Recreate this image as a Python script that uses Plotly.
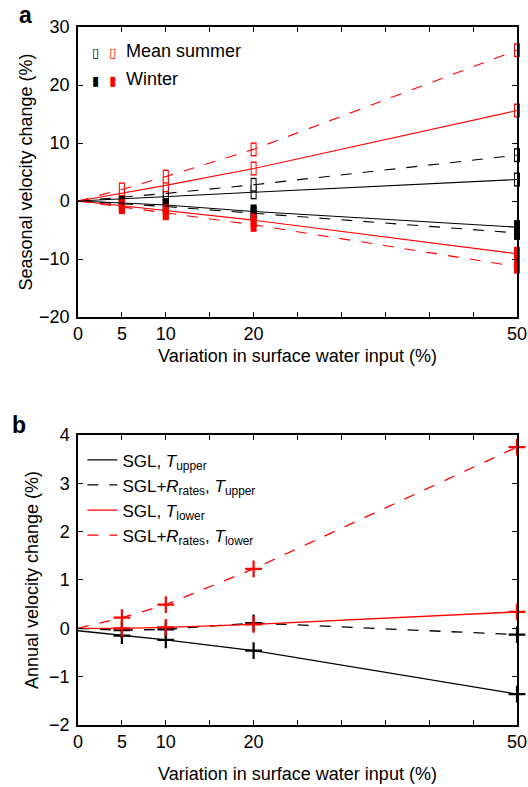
import plotly.graph_objects as go

# ---------------- data ----------------
x_vals = [0, 5, 10, 20, 50]

# panel a: seasonal velocity change (%)
summer_black_solid = [0, 0.35, 0.75, 1.5, 3.7]
summer_black_dashed = [0, 0.6, 1.3, 2.8, 7.9]
summer_red_solid = [0, 1.3, 2.7, 5.6, 15.6]
summer_red_dashed = [0, 2.0, 4.2, 8.9, 26.0]
winter_black_solid = [0, -0.35, -0.7, -1.8, -4.5]
winter_black_dashed = [0, -0.45, -0.95, -2.1, -5.5]
winter_red_solid = [0, -0.8, -1.7, -3.3, -9.1]
winter_red_dashed = [0, -1.05, -2.1, -4.1, -11.3]

# panel b: annual velocity change (%)
sgl_upper = [-0.05, -0.15, -0.24, -0.46, -1.36]
sglr_upper = [0.0, -0.04, -0.02, 0.11, -0.13]
sgl_lower = [0.0, 0.0, 0.02, 0.08, 0.34]
sglr_lower = [0.0, 0.22, 0.49, 1.23, 3.75]

x_tickvals = [0, 5, 10, 15, 20, 25, 30, 35, 40, 45, 50]
x_ticktext = ["0", "5", "10", "", "20", "", "", "", "", "", "50"]

legend_b = [
    "SGL, <i>T</i><sub>upper</sub>",
    "SGL+<i>R</i><sub>rates</sub>, <i>T</i><sub>upper</sub>",
    "SGL, <i>T</i><sub>lower</sub>",
    "SGL+<i>R</i><sub>rates</sub>, <i>T</i><sub>lower</sub>",
]

RED = "#ff0000"
BLACK = "#000000"
FONT = "Liberation Sans, Arial, sans-serif"
FS = 18
DASH = "11px,11px"

fig = go.Figure()

# ---------- panel a box markers (drawn first, lines on top) ----------
summer_sets = [
    (summer_black_solid, BLACK),
    (summer_black_dashed, BLACK),
    (summer_red_solid, RED),
    (summer_red_dashed, RED),
]
winter_sets = [
    (winter_black_solid, BLACK),
    (winter_black_dashed, BLACK),
    (winter_red_solid, RED),
    (winter_red_dashed, RED),
]


def box_trace(ys, col, size, width):
    return go.Scatter(x=x_vals[1:], y=ys[1:], mode="markers",
                      marker=dict(symbol="line-ns", size=size, color=col,
                                  line=dict(color=col, width=width)),
                      cliponaxis=False, xaxis="x", yaxis="y",
                      showlegend=False, hoverinfo="skip")


for ys, col in summer_sets:
    fig.add_trace(box_trace(ys, col, 10, 6))     # outline
    fig.add_trace(box_trace(ys, "white", 8, 4))  # hollow interior
for ys, col in winter_sets:
    fig.add_trace(box_trace(ys, col, 10, 6))     # filled

# ---------- panel a lines ----------
for ys, col, dash in [
    (summer_black_solid, BLACK, "solid"),
    (summer_black_dashed, BLACK, DASH),
    (summer_red_solid, RED, "solid"),
    (summer_red_dashed, RED, DASH),
    (winter_black_solid, BLACK, "solid"),
    (winter_black_dashed, BLACK, DASH),
    (winter_red_solid, RED, "solid"),
    (winter_red_dashed, RED, DASH),
]:
    fig.add_trace(go.Scatter(x=x_vals, y=ys, mode="lines",
                             line=dict(color=col, width=1.1, dash=dash),
                             xaxis="x", yaxis="y", showlegend=False,
                             hoverinfo="skip"))

# ---------- panel b ----------
series_b = [
    (sgl_upper, BLACK, "solid", legend_b[0]),
    (sglr_upper, BLACK, DASH, legend_b[1]),
    (sgl_lower, RED, "solid", legend_b[2]),
    (sglr_lower, RED, DASH, legend_b[3]),
]
for ys, col, dash, name in series_b:
    fig.add_trace(go.Scatter(x=x_vals, y=ys, mode="lines", name=name,
                             line=dict(color=col, width=1.3, dash=dash),
                             xaxis="x2", yaxis="y2", showlegend=True,
                             hoverinfo="skip"))
for ys, col, dash, name in series_b:
    fig.add_trace(go.Scatter(x=x_vals[1:], y=ys[1:], mode="markers",
                             marker=dict(symbol="cross-thin-open", size=12,
                                         color=col, line=dict(color=col, width=2.2)),
                             cliponaxis=False, xaxis="x2", yaxis="y2",
                             showlegend=False, hoverinfo="skip"))

axis_common = dict(showline=True, linecolor="black", linewidth=1.5,
                   mirror="ticks", ticks="inside", ticklen=5, tickwidth=1.2,
                   tickcolor="black", showgrid=False, zeroline=False,
                   automargin=False,
                   tickfont=dict(family=FONT, size=FS, color="black"))

xtitle = "Variation in surface water input (%)"

fig.update_layout(
    width=528, height=787,
    margin=dict(l=78, r=11, t=27, b=62),
    paper_bgcolor="white", plot_bgcolor="white",
    font=dict(family=FONT, size=FS, color="black"),
    xaxis=dict(domain=[0, 1], range=[0, 50], anchor="y",
               tickvals=x_tickvals, ticktext=x_ticktext,
               title=dict(text=xtitle, font=dict(size=FS), standoff=6),
               **axis_common),
    yaxis=dict(domain=[0.5845, 1], range=[-20, 30], anchor="x",
               tickvals=[-20, -10, 0, 10, 20, 30], ticklabelstandoff=3,
               title=dict(text="Seasonal velocity change (%)", font=dict(size=FS), standoff=2),
               **axis_common),
    xaxis2=dict(domain=[0, 1], range=[0, 50], anchor="y2",
                tickvals=x_tickvals, ticktext=x_ticktext,
                title=dict(text=xtitle, font=dict(size=FS), standoff=16),
                **axis_common),
    yaxis2=dict(domain=[0, 0.4155], range=[-2, 4], anchor="x2",
                tickvals=[-2, -1, 0, 1, 2, 3, 4], ticklabelstandoff=3,
                title=dict(text="Annual velocity change (%)", font=dict(size=FS), standoff=6),
                **axis_common),
    legend=dict(x=0.01, y=0.405, xanchor="left", yanchor="top",
                bgcolor="rgba(0,0,0,0)", font=dict(family=FONT, size=17),
                tracegroupgap=0, itemwidth=30),
    showlegend=True,
)

# panel labels
fig.add_annotation(text="<b>a</b>", x=-0.119, y=1.017, xref="paper", yref="paper",
                   showarrow=False, font=dict(family=FONT, size=23),
                   xanchor="center", yanchor="middle")
fig.add_annotation(text="<b>b</b>", x=-0.135, y=0.43, xref="paper", yref="paper",
                   showarrow=False, font=dict(family=FONT, size=23),
                   xanchor="center", yanchor="middle")

# panel a legend (glyph keys + text)
legend_a = [("Mean summer", "\u25af", 0.965), ("Winter", "\u25ae", 0.926)]
for label, glyph, ypos in legend_a:
    fig.add_annotation(
        text=(f"<span style='font-family:DejaVu Sans;font-size:13px'>{glyph}</span>  "
              f"<span style='font-family:DejaVu Sans;font-size:13px;color:red'>{glyph}</span>"),
        x=0.06, y=ypos, xref="paper", yref="paper", showarrow=False,
        xanchor="center", yanchor="middle", font=dict(color="black"))
    fig.add_annotation(text=label, x=0.104, y=ypos, xref="paper", yref="paper",
                       showarrow=False, xanchor="left", yanchor="middle",
                       font=dict(family=FONT, size=FS, color="black"))

fig.write_html("out.html",
               config={"displayModeBar": False},
               post_script="document.body.style.margin='0';document.body.style.overflow='hidden';")
